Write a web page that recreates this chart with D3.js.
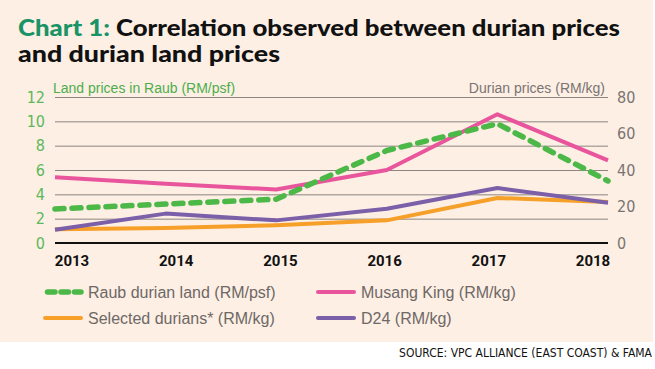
<!DOCTYPE html>
<html>
<head>
<meta charset="utf-8">
<script src="https://cdn.jsdelivr.net/npm/d3@7"></script>
<style>
  body { margin: 0; background: #fff; }
  svg { display: block; }
</style>
</head>
<body>
<div id="chart"></div>
<script>
// data
const years = ["2013", "2014", "2015", "2016", "2017", "2018"];
const raubLand = [2.8, 3.2, 3.6, 7.6, 9.8, 5.1];        // RM/psf, left axis
const musangKing = [36, 32.5, 29.3, 40, 70.5, 45.3];    // RM/kg, right axis
const selectedDurians = [7.5, 8.2, 9.7, 12.4, 24.7, 22.4];
const d24 = [7.3, 16.1, 12.4, 18.8, 30.1, 22.1];
const leftTicks = [0, 2, 4, 6, 8, 10, 12];
const rightTicks = [0, 20, 40, 60, 80];

const W = 655, H = 369;
const margin = { top: 97, right: 47, bottom: 126, left: 55 },
  width = W - margin.left - margin.right,
  height = H - margin.top - margin.bottom;

const condensed = "'Liberation Sans Narrow', 'DejaVu Sans Condensed', sans-serif";
const plain = "'Liberation Sans', Arial, sans-serif";

const svg = d3.select("#chart").append("svg")
  .attr("width", W)
  .attr("height", H);

// peach panel
svg.append("rect")
  .attr("x", 0).attr("y", 0)
  .attr("width", 653).attr("height", 342)
  .attr("fill", "#fdefe4");

// title
const t1 = svg.append("text")
  .attr("x", 18).attr("y", 36)
  .attr("font-family", "Lato, sans-serif")
  .attr("font-weight", 900)
  .attr("font-size", 23.5)
  .attr("textLength", 602)
  .attr("lengthAdjust", "spacingAndGlyphs");
t1.append("tspan").attr("fill", "#1a9466").text("Chart 1:");
t1.append("tspan").attr("fill", "#111").text(" Correlation observed between durian prices");
svg.append("text")
  .attr("x", 18).attr("y", 62)
  .attr("font-family", "Lato, sans-serif")
  .attr("font-weight", 900)
  .attr("font-size", 23.5)
  .attr("fill", "#111")
  .attr("textLength", 262)
  .attr("lengthAdjust", "spacingAndGlyphs")
  .text("and durian land prices");

const g = svg.append("g")
  .attr("transform", `translate(${margin.left},${margin.top})`);

// scales
const x = d3.scalePoint().domain(years).range([0, width]);
const xLabel = d3.scalePoint().domain(years).range([16.5, width - 15.5]);
const yL = d3.scaleLinear().domain([0, 12]).range([height, 0]);
const yR = d3.scaleLinear().domain([0, 80]).range([height, 0]);

// gridlines
g.append("g")
  .call(d3.axisLeft(yL).tickValues(leftTicks.slice(1)).tickSize(-width).tickFormat(""))
  .call(a => a.select(".domain").remove())
  .call(a => a.selectAll("line").attr("stroke", "#8c8582").attr("stroke-width", 1));

// left axis labels
g.append("g")
  .call(d3.axisLeft(yL).tickValues(leftTicks).tickSize(0).tickPadding(10))
  .call(a => a.select(".domain").remove())
  .call(a => a.selectAll("text")
    .attr("fill", "#5cb85c")
    .attr("font-family", condensed)
    .attr("font-size", 16));

// right axis labels
g.append("g")
  .attr("transform", `translate(${width},0)`)
  .call(d3.axisRight(yR).tickValues(rightTicks).tickSize(0).tickPadding(9))
  .call(a => a.select(".domain").remove())
  .call(a => a.selectAll("text")
    .attr("fill", "#7a7472")
    .attr("font-family", condensed)
    .attr("font-size", 16));

// x axis
g.append("g")
  .attr("transform", `translate(0,${height})`)
  .call(d3.axisBottom(xLabel).tickSize(0).tickPadding(12))
  .call(a => a.select(".domain").remove())
  .call(a => a.selectAll("text")
    .attr("fill", "#111")
    .attr("font-family", "Roboto, sans-serif")
    .attr("font-weight", 700)
    .attr("font-size", 15));

g.append("line")
  .attr("x1", 0).attr("x2", width)
  .attr("y1", yL(0)).attr("y2", yL(0))
  .attr("stroke", "#111").attr("stroke-width", 2);

// axis titles
g.append("text")
  .attr("x", -2).attr("y", -4)
  .attr("fill", "#4cae4c")
  .attr("font-family", plain)
  .attr("font-size", 14)
  .text("Land prices in Raub (RM/psf)");
g.append("text")
  .attr("x", width - 3).attr("y", -4)
  .attr("text-anchor", "end")
  .attr("fill", "#7a7472")
  .attr("font-family", plain)
  .attr("font-size", 14)
  .text("Durian prices (RM/kg)");

// series
const series = [
  { name: "Selected durians* (RM/kg)", values: selectedDurians, y: yR, color: "#f6a02a", dash: null, w: 4 },
  { name: "D24 (RM/kg)", values: d24, y: yR, color: "#7b5fa8", dash: null, w: 4 },
  { name: "Musang King (RM/kg)", values: musangKing, y: yR, color: "#e9559c", dash: null, w: 4 },
  { name: "Raub durian land (RM/psf)", values: raubLand, y: yL, color: "#4cb847", dash: "9,8", w: 5.5 }
];

series.forEach(s => {
  const line = d3.line()
    .x((d, i) => x(years[i]))
    .y(d => s.y(d));
  g.append("path")
    .datum(s.values)
    .attr("d", line)
    .attr("fill", "none")
    .attr("stroke", s.color)
    .attr("stroke-width", s.w)
    .attr("stroke-linejoin", "round")
    .attr("stroke-linecap", s.dash ? "round" : "butt")
    .attr("stroke-dasharray", s.dash);
});

// legend
const legendItems = [
  { s: series[3], x: 45, y: 292 },
  { s: series[2], x: 318, y: 292 },
  { s: series[0], x: 45, y: 318 },
  { s: series[1], x: 318, y: 318 }
];
const legend = svg.append("g");
legendItems.forEach(it => {
  legend.append("line")
    .attr("x1", it.x + (it.s.dash ? 2.5 : 0)).attr("x2", it.x + 36)
    .attr("y1", it.y).attr("y2", it.y)
    .attr("stroke", it.s.color)
    .attr("stroke-width", it.s.dash ? 5.5 : 4)
    .attr("stroke-linecap", "round")
    .attr("stroke-dasharray", it.s.dash ? "7.5,6" : null);
  legend.append("text")
    .attr("x", it.x + 43).attr("y", it.y + 6)
    .attr("fill", "#6e6866")
    .attr("font-family", plain)
    .attr("font-size", 16)
    .text(it.s.name);
});

// source
svg.append("text")
  .attr("x", 652).attr("y", 357)
  .attr("text-anchor", "end")
  .attr("fill", "#111")
  .attr("font-family", condensed)
  .attr("font-size", 12)
  .text("SOURCE: VPC ALLIANCE (EAST COAST) & FAMA");
</script>
</body>
</html>
